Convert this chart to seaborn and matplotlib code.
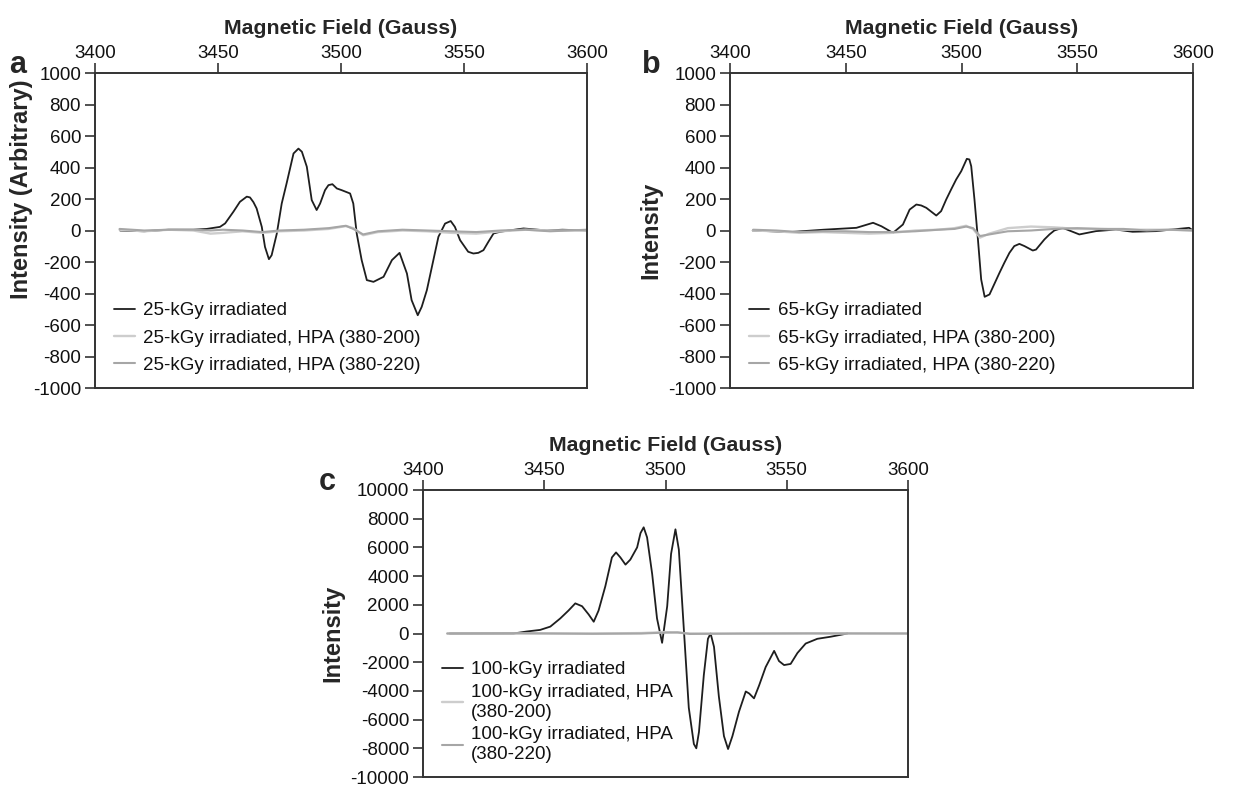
import matplotlib
matplotlib.use("Agg")
import matplotlib.pyplot as plt
import seaborn as sns

# ---------------- data ----------------
# Panel a (25 kGy)
a_x = [3410.2, 3420, 3430, 3440, 3445.4, 3450.8, 3452.9, 3456.3, 3458.9, 3461.7, 3463.0, 3464.4,
       3465.7, 3467.8, 3469.1, 3470.7, 3471.8, 3473.9, 3475.9, 3477.9, 3480.7, 3482.7, 3484.1,
       3486.1, 3488.1, 3490.1, 3491.5, 3493.5, 3494.9, 3496.5, 3498.3, 3500.3, 3503.7, 3505.0,
       3506.4, 3508.4, 3510.5, 3513.2, 3517.3, 3520.7, 3523.8, 3526.8, 3528.7, 3531.2, 3532.8,
       3534.9, 3539.6, 3542.3, 3544.6, 3546.3, 3548.4, 3551.7, 3553.8, 3555.8, 3557.9, 3559.9,
       3562.0, 3564.7, 3574.2, 3583.7, 3590, 3600]
a_irr = [0, -5, 5, 5, 10, 23, 45, 120, 182, 215, 210, 180,
         140, 23, -104, -182, -157, -20, 171, 300, 489, 520, 500,
         405, 193, 130, 171, 256, 288, 294, 267, 256, 235, 171,
         -20, -188, -315, -326, -294, -188, -142, -273, -442, -538, -485,
         -379, -40, 44, 60, 23, -61, -135, -146, -142, -125, -72,
         -19, -8, 13, 0, 5, 0]
a_hx = [3410, 3420, 3430, 3440, 3447, 3452, 3460, 3468, 3475, 3485, 3495, 3502, 3505, 3509,
        3515, 3525, 3535, 3545, 3555, 3565, 3575, 3585, 3600]
a_hpa200 = [5, -5, 5, 0, -20, -15, -5, -15, -5, 0, 10, 28, 15, -30, -10, 0, -5, -15, -20, -5, 5, 0, 0]
a_hpa220 = [10, 0, 5, 5, 0, 5, 0, -10, 0, 5, 15, 30, 10, -25, -5, 5, 0, -5, -10, 0, 5, -5, 5]

# Panel b (65 kGy)
b_x = [3409.8, 3425.9, 3440.4, 3454.6, 3461.8, 3465.4, 3470.4, 3474.7, 3477.6, 3480.5, 3482.6,
       3484.8, 3489.1, 3491.2, 3493.4, 3495.5, 3497.7, 3499.9, 3502.3, 3503.4, 3504.2, 3505.6,
       3507.1, 3508.5, 3510.0, 3512.1, 3516.4, 3518.5, 3520.7, 3522.8, 3525.0, 3527.2, 3530.8,
       3532.2, 3535.8, 3538.0, 3540.1, 3543.7, 3550.9, 3558.1, 3566.7, 3573.9, 3584.0, 3598.3, 3600]
b_irr = [0, -10, 5, 17, 49, 27, -15, 38, 133, 165, 159,
         144, 95, 123, 197, 260, 324, 377, 455, 451, 408, 197,
         -57, -311, -421, -406, -269, -205, -142, -99, -85, -99, -127,
         -121, -57, -25, 0, 17, -25, -4, 6, -8, -4, 17, 0]
b_hx = [3410, 3420, 3430, 3440, 3450, 3460, 3470, 3480, 3490, 3497, 3502, 3505, 3508, 3512,
        3520, 3530, 3540, 3550, 3560, 3570, 3580, 3590, 3600]
b_hpa200 = [0, -5, -15, -10, -15, -20, -15, 0, 5, 15, 30, 10, -45, -20, 15, 25, 20, 10, 10, 5, 5, 5, 0]
b_hpa220 = [5, 0, -10, -5, -5, -10, -10, -5, 5, 10, 25, 15, -35, -25, -5, 0, 10, 15, 10, 10, 0, 5, 0]

# Panel c (100 kGy)
c_x = [3411, 3437.3, 3442.8, 3448.3, 3452.5, 3456.6, 3460.0, 3462.8, 3465.6, 3468.3, 3470.4,
       3472.4, 3475.2, 3477.9, 3479.6, 3481.4, 3483.5, 3485.5, 3488.3, 3489.7, 3491.0, 3492.4,
       3494.5, 3496.5, 3498.6, 3500.7, 3502.3, 3504.1, 3505.5, 3507.6, 3509.6, 3511.7, 3512.7,
       3513.8, 3515.8, 3517.5, 3518.6, 3520.0, 3522.0, 3524.1, 3525.8, 3527.6, 3530.3, 3533.1,
       3534.5, 3536.5, 3538.6, 3541.3, 3544.8, 3546.8, 3548.9, 3551.6, 3554.4, 3557.8, 3562.6,
       3568.1, 3575.0]
c_irr = [0, 0, 140, 250, 480, 1050, 1600, 2100, 1900, 1330, 820,
         1600, 3300, 5300, 5650, 5300, 4800, 5150, 6000, 7000, 7400, 6700,
         4150, 1050, -650, 1900, 5550, 7260, 5850, 200, -5170, -7700, -8000,
         -6860, -2900, -370, 0, -930, -4380, -7150, -8050, -7150, -5450, -4040,
         -4180, -4520, -3620, -2340, -1210, -1920, -2200, -2120, -1360, -700, -370,
         -225, 0]
c_hx = [3410, 3440, 3470, 3490, 3500, 3505, 3510, 3530, 3560, 3600]
c_hpa200 = [0, 0, 0, 30, 100, 60, 0, -20, 0, 0]
c_hpa220 = [0, 20, -20, 0, 60, 80, -30, 0, 10, 0]

x_ticks = [3400, 3450, 3500, 3550, 3600]

# ---------------- style ----------------
sns.set_theme(style="white")
plt.rcParams["font.family"] = ["Liberation Sans", "DejaVu Sans"]
plt.rcParams["axes.unicode_minus"] = False

BLACK = "#1e1e1e"
LIGHT = "#cdcdcd"
MID = "#a6a6a6"
TICK_FS = 13.5
XLAB_FS = 15.3
YLAB_FS = 17
LEG_FS = 13.5

fig = plt.figure(figsize=(12.37, 7.86), dpi=100)
W, H = 1237, 786


def make_ax(l, r, t, b):
    return fig.add_axes([l / W, 1 - b / H, (r - l) / W, (b - t) / H])


def style_ax(ax, ylim, yticks, ylabel):
    ax.set_xlim(3400, 3600)
    ax.set_ylim(*ylim)
    ax.set_xticks(x_ticks)
    ax.set_yticks(yticks)
    ax.xaxis.tick_top()
    ax.xaxis.set_label_position("top")
    ax.set_xlabel("Magnetic Field (Gauss)", fontsize=XLAB_FS, fontweight="bold", labelpad=8)
    ax.set_ylabel(ylabel, fontsize=YLAB_FS, fontweight="bold", labelpad=4)
    ax.tick_params(axis="both", which="both", direction="out", length=7, width=1.2,
                   color="#333333", labelsize=TICK_FS, labelcolor="#111111",
                   top=True, bottom=False, left=True, right=False)
    ax.tick_params(axis="x", pad=1)
    ax.tick_params(axis="y", pad=3)
    for s in ax.spines.values():
        s.set_visible(True)
        s.set_color("#333333")
        s.set_linewidth(1.4)
    ax.grid(False)


def draw(ax, x, irr, hx, h200, h220, labels):
    sns.lineplot(x=x, y=irr, ax=ax, color=BLACK, lw=1.3, label=labels[0], estimator=None, sort=False)
    sns.lineplot(x=hx, y=h200, ax=ax, color=LIGHT, lw=1.7, label=labels[1], estimator=None, sort=False)
    sns.lineplot(x=hx, y=h220, ax=ax, color=MID, lw=1.5, label=labels[2], estimator=None, sort=False)


def legend(ax, spacing):
    leg = ax.legend(loc="lower left", frameon=False, fontsize=LEG_FS, handlelength=1.1,
                    handletextpad=0.45, labelspacing=spacing, borderaxespad=0.35,
                    bbox_to_anchor=(0.01, 0.0))
    for t in leg.get_texts():
        t.set_color("#111111")
    return leg


# Panel a
ax_a = make_ax(95, 587, 73, 388)
draw(ax_a, a_x, a_irr, a_hx, a_hpa200, a_hpa220,
     ["25-kGy irradiated", "25-kGy irradiated, HPA (380-200)", "25-kGy irradiated, HPA (380-220)"])
style_ax(ax_a, (-1000, 1000), list(range(-1000, 1001, 200)), "Intensity (Arbitrary)")
ax_a.yaxis.set_label_coords(-0.126, 0.63)
legend(ax_a, 0.55)

# Panel b
ax_b = make_ax(730, 1193, 73, 388)
draw(ax_b, b_x, b_irr, b_hx, b_hpa200, b_hpa220,
     ["65-kGy irradiated", "65-kGy irradiated, HPA (380-200)", "65-kGy irradiated, HPA (380-220)"])
style_ax(ax_b, (-1000, 1000), list(range(-1000, 1001, 200)), "Intensity")
legend(ax_b, 0.55)

# Panel c
ax_c = make_ax(423, 908, 490, 777)
draw(ax_c, c_x, c_irr, c_hx, c_hpa200, c_hpa220,
     ["100-kGy irradiated", "100-kGy irradiated, HPA\n(380-200)", "100-kGy irradiated, HPA\n(380-220)"])
style_ax(ax_c, (-10000, 10000), list(range(-10000, 10001, 2000)), "Intensity")
legend(ax_c, 0.3)

# Panel letters
fig.text(9 / W, 1 - 73 / H, "a", fontsize=22, fontweight="bold", va="baseline", ha="left")
fig.text(642 / W, 1 - 73 / H, "b", fontsize=22, fontweight="bold", va="baseline", ha="left")
fig.text(319 / W, 1 - 490 / H, "c", fontsize=22, fontweight="bold", va="baseline", ha="left")

fig.savefig("out.png", dpi=100)
